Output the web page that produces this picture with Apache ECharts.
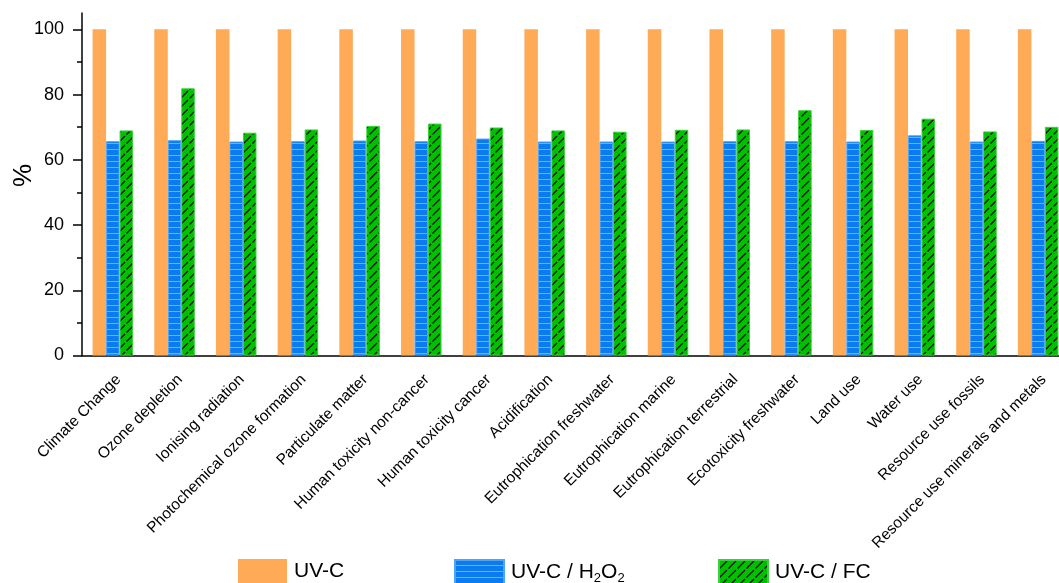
<!DOCTYPE html>
<html>
<head>
<meta charset="utf-8">
<script src="https://cdn.jsdelivr.net/npm/echarts@6/dist/echarts.min.js"></script>
<style>
  html, body { margin: 0; padding: 0; background: #fff; }
  #chart { width: 1059px; height: 583px; }
</style>
</head>
<body>
<div id="chart"></div>
<script>
// Impact categories (x axis)
const categories = [
  'Climate Change', 'Ozone depletion', 'Ionising radiation', 'Photochemical ozone formation',
  'Particulate matter', 'Human toxicity non-cancer', 'Human toxicity cancer', 'Acidification',
  'Eutrophication freshwater', 'Eutrophication marine', 'Eutrophication terrestrial',
  'Ecotoxicity freshwater', 'Land use', 'Water use', 'Resource use fossils',
  'Resource use minerals and metals'
];

// Relative impact, % of the UV-C reference process
const uvc    = [100, 100, 100, 100, 100, 100, 100, 100, 100, 100, 100, 100, 100, 100, 100, 100];
const uvcH2O2 = [65.7, 66.0, 65.6, 65.7, 65.9, 65.7, 66.5, 65.6, 65.6, 65.6, 65.7, 65.7, 65.6, 67.5, 65.6, 65.8];
const uvcFC  = [69.0, 81.9, 68.3, 69.3, 70.4, 71.1, 69.9, 69.0, 68.6, 69.2, 69.3, 75.2, 69.1, 72.6, 68.7, 70.1];

// Y axis tick values
const majorTicks = [0, 20, 40, 60, 80, 100];
const minorTicks = [10, 30, 50, 70, 90];

const seriesNames = ['UV-C', 'UV-C / H2O2', 'UV-C / FC'];

// Fill patterns
function stripePattern() {
  const c = document.createElement('canvas');
  c.width = 4; c.height = 6;
  const g = c.getContext('2d');
  g.fillStyle = '#0a7cf0';
  g.fillRect(0, 0, 4, 6);
  g.fillStyle = '#62b3ff';
  g.fillRect(0, 5, 4, 1);
  return { image: c, repeat: 'repeat' };
}
function hatchPattern() {
  const c = document.createElement('canvas');
  c.width = 9; c.height = 9;
  const g = c.getContext('2d');
  g.fillStyle = '#00c000';
  g.fillRect(0, 0, 9, 9);
  g.strokeStyle = '#000';
  g.lineWidth = 1.1;
  g.beginPath();
  g.moveTo(0.5, 8.5);
  g.lineTo(8, 1);
  g.stroke();
  return { image: c, repeat: 'repeat' };
}

const font = '"Liberation Sans", Arial, sans-serif';
const chart = echarts.init(document.getElementById('chart'), null, { renderer: 'canvas' });

const legendBase = {
  top: 559,
  padding: 0,
  itemWidth: 49,
  itemHeight: 24,
  icon: 'rect',
  itemGap: 0,
  textStyle: {
    fontFamily: font, fontSize: 21, color: '#000', padding: [0, 0, 0, 2],
    rich: {
      sub: { fontFamily: font, fontSize: 13, color: '#000', padding: [13, 0, 0, 0] }
    }
  },
  formatter: function (name) {
    return name === 'UV-C / H2O2' ? 'UV-C / H{sub|2}O{sub|2}' : name;
  }
};

chart.setOption({
  animation: false,
  backgroundColor: '#fff',
  grid: { left: 82, top: 13, width: 987, height: 342.5, outerBoundsMode: 'none', containLabel: false },
  legend: [
    Object.assign({}, legendBase, { left: 238, data: [seriesNames[0]] }),
    Object.assign({}, legendBase, { left: 454, data: [seriesNames[1]] }),
    Object.assign({}, legendBase, { left: 718, data: [seriesNames[2]] })
  ],
  xAxis: [
    {
      type: 'category',
      data: categories,
      position: 'bottom',
      axisLine: { lineStyle: { color: '#000', width: 1.5 } },
      axisTick: { alignWithLabel: true, length: 7, lineStyle: { color: '#000', width: 1.5 } },
      axisLabel: {
        rotate: 45, margin: 16, interval: 0, verticalAlign: 'top',
        fontFamily: font, fontSize: 15.5, color: '#000'
      },
      splitLine: { show: false }
    },
    {
      // boundary ticks between categories
      type: 'category',
      data: categories,
      position: 'bottom',
      axisLine: { show: false },
      axisTick: { alignWithLabel: false, length: 4, lineStyle: { color: '#000', width: 1.5 } },
      axisLabel: { show: false },
      splitLine: { show: false }
    }
  ],
  yAxis: [
    {
      type: 'value',
      min: 0, max: 105, interval: 5,
      position: 'left',
      axisLine: { show: true, lineStyle: { color: '#000', width: 1.5 } },
      axisTick: { show: true, length: 9, customValues: majorTicks, lineStyle: { color: '#000', width: 1.5 } },
      axisLabel: { customValues: majorTicks, margin: 18, fontFamily: font, fontSize: 18, color: '#000' },
      splitLine: { show: false }
    },
    {
      type: 'value',
      min: 0, max: 105, interval: 5,
      position: 'left',
      axisLine: { show: false },
      axisTick: { show: true, length: 5, customValues: minorTicks, lineStyle: { color: '#000', width: 1.5 } },
      axisLabel: { show: false },
      splitLine: { show: false }
    }
  ],
  graphic: [
    {
      type: 'text',
      left: 11, top: 164,
      rotation: Math.PI / 2,
      style: { text: '%', fontFamily: font, fontSize: 26, fill: '#000' }
    }
  ],
  series: [
    {
      name: seriesNames[0], type: 'bar', data: uvc,
      barWidth: 13.5, barGap: '0%',
      itemStyle: { color: '#ffaa57' }
    },
    {
      name: seriesNames[1], type: 'bar', data: uvcH2O2,
      barWidth: 13.5, barGap: '0%',
      itemStyle: { color: stripePattern(), borderColor: '#4da4f6', borderWidth: 1 }
    },
    {
      name: seriesNames[2], type: 'bar', data: uvcFC,
      barWidth: 13.5, barGap: '0%',
      itemStyle: { color: hatchPattern(), borderColor: '#3ccf3c', borderWidth: 1 }
    }
  ]
});
</script>
</body>
</html>
